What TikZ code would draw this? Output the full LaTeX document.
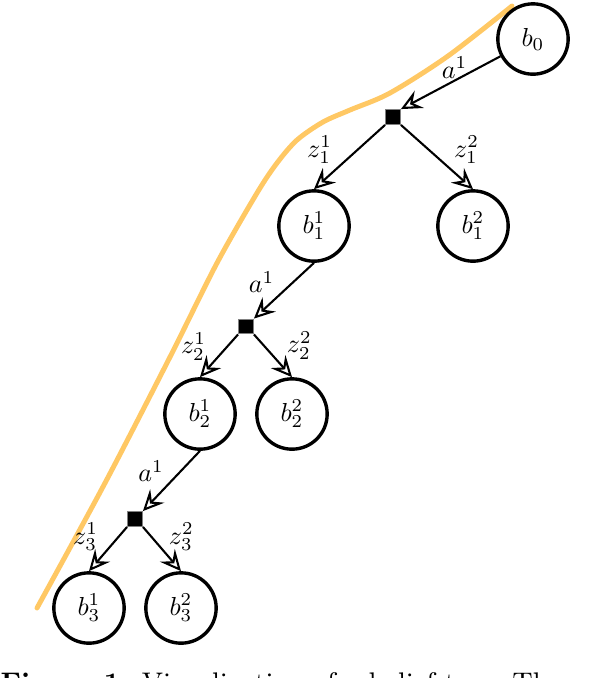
\documentclass[tikz,border=0pt]{standalone}
\usetikzlibrary{arrows.meta}
\definecolor{beliefpath}{RGB}{255,200,100}
\begin{document}
\begin{tikzpicture}
    [
    x=0.0135cm,
    y=-0.0135cm,
    belief/.style={
        circle,
        draw=black,
        line width=1.3pt,
        fill=white,
        minimum size=0.95cm,
        inner sep=0pt
    },
    action/.style={rectangle, fill=black, draw=black!50, minimum size=0.2cm, inner sep=0pt},
    arrow/.style={-{Stealth[open, length=8pt, width=7.5pt, inset=3pt]}, thick},
    lbl/.style={inner sep=1pt},
    trace/.style={line width=1.9pt, draw=beliefpath, line cap=round}
    ]
    \useasboundingbox (0,0) rectangle (592,678);

% Highlighted branch
    \draw[trace] plot[smooth] coordinates {(37,608) (105,483) (170,357) (217,263) (257,193) (277,163) (297,140) (323,122) (350,110) (390,93) (448,56) (512,6)};

% Root
    \node[belief] (b0) at (533,39) {$b_0$};
    \node[action] (s1) at (393,117) {};

% Level 1
    \node[belief] (b11) at (314,226) {$b_1^1$};
    \node[belief] (b12) at (473,226) {$b_1^2$};
    \node[action] (s2) at (246,326.5) {};

% Level 2
    \node[belief] (b21) at (200,414) {$b_2^1$};
    \node[belief] (b22) at (292,414) {$b_2^2$};
    \node[action] (s3) at (135,519) {};

% Level 3
    \node[belief] (b31) at (89,608) {$b_3^1$};
    \node[belief] (b32) at (181,608) {$b_3^2$};

% Actions and observations
    \draw[arrow] (b0) -- node[lbl, pos=0.46, above, inner sep=0.5pt] {$a^1$} (s1.north east);
    \draw[arrow] (s1.south west) -- node[lbl, pos=0.39, left=8.3pt] {$z_1^1$} (b11.north);
    \draw[arrow] (s1.south east) -- node[lbl, pos=0.39, right=8.2pt] {$z_1^2$} (b12.north);

    \draw[arrow] (b11.south) -- node[lbl, pos=0.6, above left] {$a^1$} (s2.north east);
    \draw[arrow] (s2.south west) -- node[lbl, pos=0.28, left=6.8pt] {$z_2^1$} (b21.north);
    \draw[arrow] (s2.south east) -- node[lbl, pos=0.26, right=7.5pt] {$z_2^2$} (b22.north);

    \draw[arrow] (b21.south) -- node[lbl, pos=0.57, above left] {$a^1$} (s3.north east);
    \draw[arrow] (s3.south west) -- node[lbl, pos=0.22, left=6.5pt] {$z_3^1$} (b31.north);
    \draw[arrow] (s3.south east) -- node[lbl, pos=0.22, right=5.4pt] {$z_3^2$} (b32.north);

% Caption
    \node[anchor=base west, inner sep=0pt, font=\fontsize{10.9}{13}\selectfont] (caption) at (0,692) {\textbf{Figure 1:} Visualization of a belief tree. The};

\end{tikzpicture}
\end{document}
